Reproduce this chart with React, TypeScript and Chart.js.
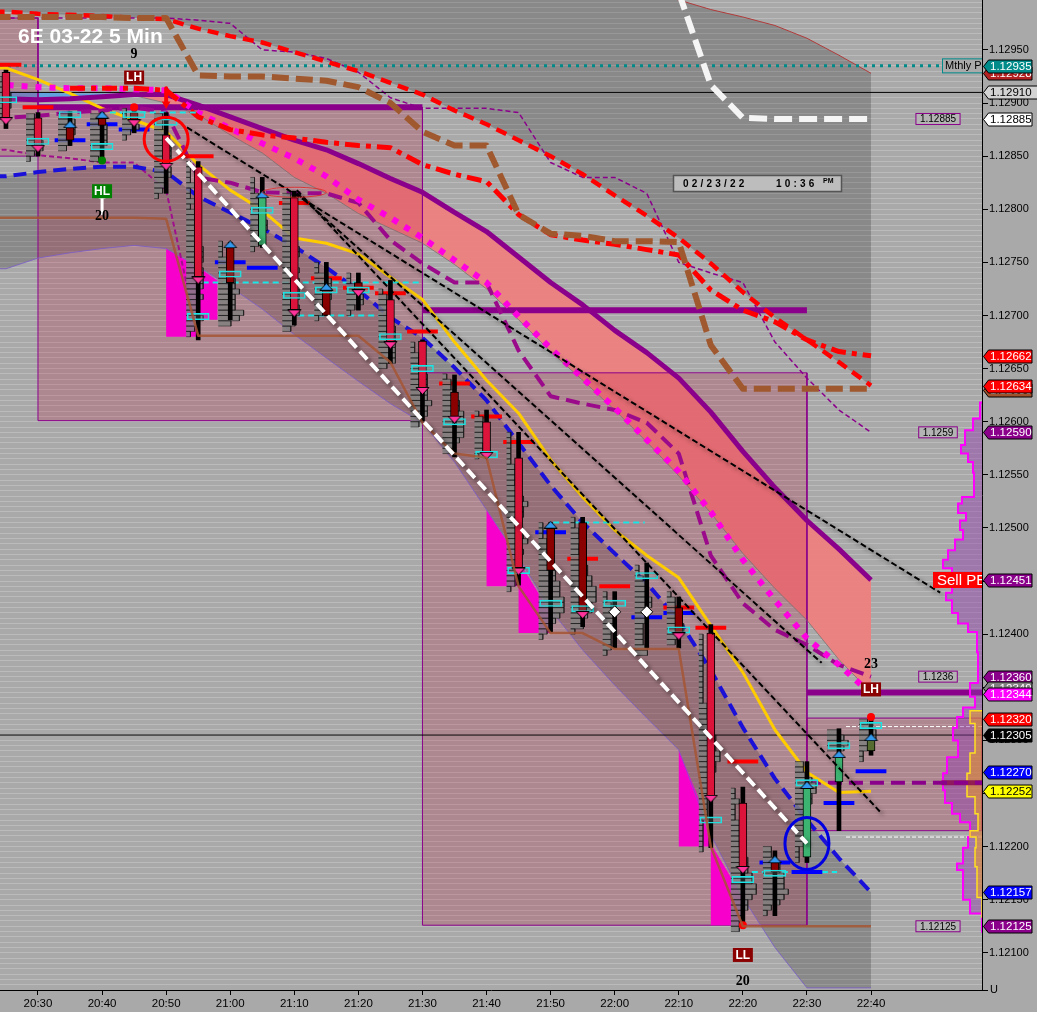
import React, { useEffect, useRef } from "react";
import { Chart, registerables } from "chart.js";
Chart.register(...registerables);

const T_MIN = 1224.07, T_MAX = 1377.32, P_MIN = 1.12065, P_MAX = 1.12997;
const barTimes = [1225,1230,1235,1240,1245,1250,1255,1260,1265,1270,1275,1280,1285,1290,1295,1300,1305,1310,1315,1320,1325,1330,1335,1340,1345,1350,1355,1360];

const upperEnvelope = [1.13105,1.13105,1.13100,1.13100,1.13095,1.13090,1.13085,1.13080,1.13075,1.13070,1.13065,1.13060,1.13055,1.13050,1.13045,1.13040,1.13035,1.13030,1.13020,1.13012,1.13004,1.12997,1.12988,1.12981,1.12973,1.12961,1.12945,1.12928];
const redDashed = [1.12986,1.12984,1.12983,1.12982,1.12980,1.12979,1.12970,1.12963,1.12957,1.12948,1.12939,1.12930,1.12919,1.12908,1.12893,1.12880,1.12865,1.12850,1.12833,1.12813,1.12794,1.12773,1.12749,1.12722,1.12698,1.12677,1.12656,1.12634];
const brownDashed = [1.12981,1.12981,1.12981,1.12981,1.12980,1.12980,1.12926,1.12925,1.12925,1.12923,1.12921,1.12915,1.12900,1.12873,1.12860,1.12860,1.12795,1.12777,1.12775,1.12770,1.12770,1.12769,1.12672,1.12631,1.12631,1.12631,1.12631,1.12631];
const redDashDot = [null,null,1.12914,1.12914,1.12914,1.12912,1.12887,1.12875,1.12870,1.12867,1.12863,1.12860,1.12858,1.12842,1.12833,1.12826,1.12795,1.12776,1.12771,1.12767,1.12762,1.12757,1.12724,1.12705,1.12694,1.12677,1.12666,1.12662];
const purpleThick = [1.12904,1.12903,1.12904,1.12906,1.12908,1.12908,1.12898,1.12887,1.12876,1.12865,1.12856,1.12843,1.12829,1.12816,1.12797,1.12779,1.12755,1.12731,1.12710,1.12686,1.12665,1.12641,1.12609,1.12572,1.12538,1.12507,1.12480,1.12451];
const magentaDotted = [1.12917,1.12915,1.12914,1.12914,1.12913,1.12912,1.12891,1.12876,1.12862,1.12848,1.12831,1.12809,1.12792,1.12773,1.12752,1.12731,1.12699,1.12669,1.12641,1.12613,1.12583,1.12553,1.12515,1.12470,1.12432,1.12396,1.12371,1.12344];
const cloudLower = [null,null,null,null,1.12907,1.12900,1.12889,1.12870,1.12853,1.12830,1.12815,1.12796,1.12782,1.12768,1.12748,1.12725,1.12696,1.12666,1.12639,1.12611,1.12581,1.12549,1.12514,1.12476,1.12443,1.12413,1.12376,1.12345];
const blueCloudUpper = [1.12911,1.12910,1.12909,1.12909,1.12908];
const blueDashed = [1.12831,1.12835,1.12838,1.12840,1.12840,1.12835,1.12812,1.12797,1.12782,1.12765,1.12745,1.12724,1.12698,1.12679,1.12651,1.12620,1.12580,1.12540,1.12505,1.12476,1.12448,1.12413,1.12366,1.12312,1.12264,1.12225,1.12189,1.12157];
const lowerEnvelope = [1.12744,1.12754,1.12759,1.12763,1.12766,1.12763,1.12746,1.12727,1.12706,1.12682,1.12660,1.12638,1.12617,1.12599,1.12562,1.12517,1.12472,1.12423,1.12385,1.12352,1.12321,1.12291,1.12211,1.12152,1.12105,1.12067,1.12067,1.12067];
const brownSolid = [1.12792,1.12792,1.12792,1.12792,1.12792,1.12791,1.12681,1.12681,1.12681,1.12681,1.12681,1.12681,1.12656,1.12599,1.12570,1.12566,1.12445,1.12401,1.12401,1.12386,1.12386,1.12386,1.12200,1.12125,1.12125,1.12125,1.12125,1.12125];
const yellowLine = [1.12933,1.12922,1.12909,1.12895,1.12884,1.12873,1.12842,1.12818,1.12799,1.12773,1.12768,1.12758,1.12736,1.12715,1.12675,1.12639,1.12608,1.12564,1.12529,1.12498,1.12474,1.12453,1.12408,1.12364,1.12310,1.12270,1.12251,1.12252];
const purpleDashed = [1.12886,1.12888,1.12891,1.12893,1.12896,1.12891,1.12830,1.12825,1.12816,1.12815,1.12815,1.12806,1.12771,1.12749,1.12731,1.12731,1.12667,1.12624,1.12617,1.12611,1.12599,1.12570,1.12474,1.12429,1.12404,1.12390,1.12371,1.12360];
const thinUpper = [1.12980,1.12980,1.12980,1.12980,1.12980,1.12980,1.12978,1.12975,1.12950,1.12948,1.12942,1.12929,1.12905,1.12895,1.12895,1.12895,1.12891,1.12844,1.12830,1.12830,1.12815,1.12750,1.12740,1.12731,1.12675,1.12641,1.12611,1.12590];
const thinSecond = [1.12856,1.12851,1.12848,1.12844,1.12844,1.12818,1.12680];
const whiteThick = [null,null,null,null,null,null,null,null,null,null,null,null,null,null,null,null,null,null,null,null,null,1.13004,1.12917,1.12886,1.12885,1.12885,1.12885,1.12885];

const whiteTrend = { t: [1250, 1350], p: [1.12867, 1.12203] };
const blackTrends = [
  { t: [1253.25, 1370.8], p: [1.12877, 1.12439] },
  { t: [1270.4, 1352.3], p: [1.12815, 1.12373] },
  { t: [1270.4, 1361.7], p: [1.12818, 1.12231] },
];

const boxTimes = [[1220, 1230], [1230, 1290], [1290, 1350], [1350, T_MAX]];
const boxPrices = [[1.12980, 1.12850], [1.12896, 1.12601], [1.12646, 1.12126], [1.12321, 1.12215]];

const magentaShapeTimes = [
  [1250, 1250, 1255, 1255, 1258, 1258, 1255.6],
  [1300, 1300, 1305, 1305, 1310, 1310, 1303],
  [1330, 1330, 1335, 1335, 1340, 1340, 1335, 1333],
];
const magentaShapePrices = [
  [1.12763, 1.12680, 1.12680, 1.12696, 1.12696, 1.12733, 1.12743],
  [1.12517, 1.12445, 1.12445, 1.12401, 1.12401, 1.12420, 1.12489],
  [1.12291, 1.12200, 1.12200, 1.12126, 1.12126, 1.12152, 1.12203, 1.12247],
];

const wickHigh = [1.12931,1.12891,1.12892,1.12891,1.12898,1.12891,1.12845,1.12769,1.12830,1.12817,1.12750,1.12740,1.12733,1.12677,1.12644,1.12611,1.12590,1.12505,1.12510,1.12440,1.12467,1.12435,1.12409,1.12256,1.12196,1.12280,1.12311,1.12321];
const wickLow = [1.12876,1.12850,1.12860,1.12846,1.12872,1.12815,1.12677,1.12696,1.12764,1.12691,1.12700,1.12705,1.12655,1.12601,1.12567,1.12567,1.12446,1.12402,1.12407,1.12387,1.12387,1.12387,1.12199,1.12126,1.12135,1.12185,1.12215,1.12286];
const bodyTop = [1.12929,1.12886,1.12877,1.12886,1.12891,1.12870,1.12840,1.12764,1.12811,1.12811,1.12724,1.12731,1.12715,1.12676,1.12628,1.12600,1.12566,1.12500,1.12505,null,null,1.12425,1.12401,1.12241,1.12185,1.12255,1.12284,1.12300];
const bodyBottom = [1.12886,1.12860,1.12865,1.12879,1.12884,1.12843,1.12736,1.12731,1.12766,1.12705,1.12700,1.12724,1.12675,1.12632,1.12605,1.12571,1.12462,1.12460,1.12421,null,null,1.12401,1.12248,1.12181,1.12176,1.12190,1.12261,1.12290];
const bodyKind = ["c","c","d","d","d","c","c","d","g","c","d","d","c","c","d","c","c","d","d",null,null,"d","c","c","d","g","g","o"];
const arrowDir = ["down","down","up","up","down","down","down","up","up","down","up","down","down","down","down","down","down","up","down",null,null,"down","down","down","up","up","up","up"];
const diamondPrices = [null,null,null,null,null,null,null,null,null,null,null,null,null,null,null,null,null,null,null,1.12421,1.12421,null,null,null,null,null,null,null];
const pocPrices = [1.12903,1.12864,1.12889,1.12859,1.12889,1.12882,1.12699,1.12739,1.12799,1.12719,1.12724,1.12724,1.12680,1.12650,1.12600,1.12569,1.12460,1.12429,1.12424,1.12429,1.12455,1.12404,1.12225,1.12169,1.12175,1.12260,1.12295,1.12314];
const redTickPrices = [1.12936,1.12896,null,null,null,null,1.12850,null,null,1.12806,1.12735,1.12726,1.12721,1.12685,1.12636,1.12605,1.12581,null,1.12471,1.12445,null,1.12425,1.12406,1.12280,null,null,null,null];
const blueTickPrices = [null,null,1.12865,1.12880,1.12875,null,null,1.12750,1.12745,null,null,null,null,null,null,null,null,1.12496,null,null,1.12416,1.12420,null,null,1.12185,1.12176,1.12241,1.12271];

const histTop = [1.12930,1.12890,1.12890,1.12890,1.12895,1.12890,1.12845,1.12770,1.12830,1.12815,1.12750,1.12740,1.12725,1.12675,1.12645,1.12610,1.12590,1.12505,1.12510,1.12440,1.12465,1.12440,1.12400,1.12255,1.12200,1.12280,1.12310,1.12320];
const histRows = [
  [1,2,3,3,4,4,4,3,2,1],
  [2,2,3,3,3,4,4,2,1],
  [3,4,4,4,3,3,2],
  [3,3,4,4,4,4,3,3,2],
  [1,1,3,4,2,1],
  [2,2,2,3,3,3,4,4,4,3,4,4,3,3,2,1],
  [1,1,1,1,2,1,1,2,1,2,2,2,3,3,3,3,4,4,4,3,4,4,4,4,3,4,3,3,3,4,3,2,1],
  [1,1,1,2,2,3,3,4,4,5,4,4,4,6,5,3],
  [1,1,1,2,2,2,3,3,4,4,3,3,2,1],
  [2,2,3,3,2,3,2,3,3,3,4,4,3,3,4,3,4,3,4,4,3,4,4,3,3,2],
  [1,1,3,4,4,4,4,3,2,2,1],
  [1,1,2,2,4,4,2,1],
  [1,2,2,3,3,3,3,4,4,4,4,4,4,4,2],
  [1,1,2,2,3,3,4,4,4,4,4,5,4,4,3,2],
  [1,2,2,3,3,4,4,5,5,5,5,5,4,3,2],
  [1,2,2,3,3,3,2,2,1],
  [1,1,1,1,1,1,2,2,2,2,3,3,4,5,4,4,3,3,4,4,5,3,4,3,3,3,3,2,2,1],
  [1,1,1,2,2,2,2,3,3,4,4,5,5,5,6,6,6,5,4,3,2,1],
  [1,1,2,2,3,2,2,3,3,4,4,5,5,6,6,6,5,5,4,3,3,1],
  [1,1,2,2,3,3,3,2,2,2,2,1],
  [1,1,2,3,3,3,4,4,3,3,3,2,2,2,2,3,3],
  [1,2,2,3,3,3,4,4,3,2],
  [1,1,1,1,1,1,1,1,1,1,1,1,1,2,2,2,3,3,3,4,4,4,5,5,4,4,3,3,3,3,2,2,2,2,2,1,1,1,1,1,1],
  [1,1,2,1,1,1,2,2,2,2,2,3,3,4,4,4,5,5,6,6,5,4,4,3,3,2,2],
  [2,2,3,4,4,5,5,5,6,5,4,2,1],
  [2,2,3,4,5,5,4,4,3,3,3,3,3,2,2,2,1,1,1],
  [3,4,5,4],
  [2,3,4,4,3,2,1,1],
];

const cyanDashTimes = [[1255.7,1290],[1270.6,1283.8],[1310.4,1324.7],[1341.4,1354.7],[1241.2,1254.8]];
const cyanDashPrices = [1.12731,1.12700,1.12505,1.12176,1.12891];
const flatThickTimes = [[1230,1290],[1290,1350],[1350,T_MAX]];
const flatThickPrices = [1.12896,1.12705,1.12345];
const priorCloseLine = 1.12260;
const teal = 1.12935, blackLines = [1.12910, 1.12305], whiteShort = [1.12313, 1.12209];

const profilePrices = [1.12618,1.12603,1.12592,1.12578,1.12570,1.12562,1.12552,1.12529,1.12523,1.12514,1.12507,1.12498,1.12489,1.12479,1.12470,1.12462,1.12439,1.12432,1.12420,1.12410,1.12402,1.12383,1.12354,1.12341,1.12331,1.12322,1.12312,1.12300,1.12284,1.12269,1.12253,1.12241,1.12231,1.12223,1.12209,1.12199,1.12184,1.12178,1.12150,1.12137,1.12119];
const profileVolume = [0,2,9,17,21,14,9,8,20,24,16,22,19,27,34,39,30,36,30,24,14,5,4,12,7,19,25,29,24,35,39,37,30,22,12,14,19,25,19,12,0];
const orangeProfilePrices = [1.12328,1.12316,1.12288,1.12269,1.12247,1.12231,1.12215,1.12209,1.12199,1.12181,1.12152,1.12133];
const orangeProfileVolume = [0,12,7,12,15,7,4,12,6,7,5,0];

const redDots = { t: [1245, 1340, 1360], p: [1.12896, 1.12126, 1.12322] };
const greenDots = { t: [1240], p: [1.12846] };

const flags: [number, string, string, string?][] = [
  [1.12928, "#b22222", "#ffffff"],
  [1.12935, "#008b8b", "#ffffff"],
  [1.12910, "#d3d3d3", "#000000", "wide"],
  [1.12885, "#ffffff", "#000000"],
  [1.12662, "#ff0000", "#ffffff"],
  [1.12630, "#a0522d", "#ffffff"],
  [1.12634, "#ff0000", "#ffffff"],
  [1.12590, "#8b008b", "#ffffff"],
  [1.12451, "#8b008b", "#ffffff"],
  [1.12360, "#8b008b", "#ffffff"],
  [1.12349, "#808080", "#ffffff"],
  [1.12344, "#ff00ff", "#ffffff"],
  [1.12320, "#ff0000", "#ffffff"],
  [1.12305, "#000000", "#ffffff"],
  [1.12270, "#0000ff", "#ffffff"],
  [1.12252, "#ffff00", "#000000"],
  [1.12157, "#0000ff", "#ffffff"],
  [1.12125, "#8b008b", "#ffffff"],
];
const noteBoxes: [string, number][] = [["1.12885", 1.12885], ["1.1259", 1.12590], ["1.1236", 1.12360], ["1.12125", 1.12125]];
const swingTags: [string, number, number, string][] = [["LH", 1245, 1.12924, "#8b0000"], ["HL", 1240, 1.12817, "#008000"], ["LH", 1360, 1.12348, "#8b0000"], ["LL", 1340, 1.12098, "#8b0000"]];
const swingCounts: [string, number, number][] = [["9", 1245, 1.12946], ["20", 1240, 1.12793], ["23", 1360, 1.12372], ["20", 1340, 1.12073]];
const rings: [number, number, number, number, string, number][] = [
  [1250, 1.12866, 22, 22, "#ff0000", 3],
  [1350, 1.12203, 22, 26, "#0000e0", 3],
  [1270, 1.12816, 32, 5, "rgba(230,30,30,0.75)", 1],
];

const F = "'Liberation Sans'";
const xy = (values: (number | null)[]) => {
  const pts: any[] = [];
  values.forEach((v, i) => { if (v !== null) pts.push({ x: barTimes[i], y: v }); });
  if (values[0] !== null) pts.unshift({ x: T_MIN - 1, y: values[0] });
  return pts;
};

// flat arrow glyphs used as the library's point style
function arrowGlyph(up: boolean, color: string) {
  const g = document.createElement("canvas");
  g.width = 15; g.height = 8;
  const c = g.getContext("2d") as CanvasRenderingContext2D;
  c.beginPath();
  if (up) { c.moveTo(7.5, 0.5); c.lineTo(14, 7.5); c.lineTo(1, 7.5); }
  else { c.moveTo(1, 0.5); c.lineTo(14, 0.5); c.lineTo(7.5, 7.5); }
  c.closePath(); c.fillStyle = color; c.fill(); c.strokeStyle = "#000000"; c.lineWidth = 1; c.stroke();
  return g;
}

function buildDatasets() {
  const ds: any[] = [];
  const line = (data: any[], color: string, width: number, dash: number[] = [], extra: any = {}) =>
    ds.push({ type: "line", data, borderColor: color, borderWidth: width, borderDash: dash, pointRadius: 0, tension: 0, fill: false, borderCapStyle: "butt", borderJoinStyle: "round", ...extra });
  const shape = (data: any[], color: string, border = 0, borderColor = "transparent", extra: any = {}) =>
    ds.push({ type: "line", data, backgroundColor: color, borderColor, borderWidth: border, pointRadius: 0, tension: 0, fill: "shape", ...extra });
  const band = (a: any[], b: any[]) => [...a, ...[...b].reverse()];

  // shaded bands
  shape(band(xy(upperEnvelope), xy(redDashed)), "rgba(0,0,0,0.19)");
  shape(band(xy(blueDashed), xy(lowerEnvelope)), "rgba(0,0,0,0.19)");
  shape(band(xy(purpleThick.map((v, i) => (cloudLower[i] === null ? null : v))).filter((p) => p.x >= 1245), xy(cloudLower)), "rgba(240,127,127,0.92)");
  shape(band(xy(blueCloudUpper), xy(purpleThick.slice(0, 5))), "rgba(90,160,230,0.9)");
  // session boxes
  boxTimes.forEach(([a, b], i) => {
    const [hi, lo] = boxPrices[i];
    shape([{ x: a, y: hi }, { x: b, y: hi }, { x: b, y: lo }, { x: a, y: lo }, { x: a, y: hi }], "rgba(195,14,52,0.21)", 1, "#8b008b");
  });
  magentaShapeTimes.forEach((ts, i) => shape(ts.map((t, k) => ({ x: t, y: magentaShapePrices[i][k] })), "#f800cc"));
  // thin envelopes
  line(xy(upperEnvelope), "#b03a3a", 1);
  line(xy(lowerEnvelope), "rgba(120,90,200,0.8)", 1);
  line(xy(thinUpper), "#8b008b", 1.5, [5, 3]);
  line(xy(thinSecond), "#a0108c", 2, [5, 3]);
  line(xy(cloudLower), "rgba(110,110,110,0.7)", 1);
  // flat lines
  line([{ x: T_MIN, y: teal }, { x: 1371.2, y: teal }], "#008b8b", 3, [3, 5]);
  blackLines.forEach((p) => line([{ x: T_MIN, y: p }, { x: T_MAX, y: p }], "#000000", 1));
  whiteShort.forEach((p) => line([{ x: 1356.1, y: p }, { x: T_MAX, y: p }], "#ffffff", 1, [4, 2]));
  flatThickTimes.forEach(([a, b], i) => line([{ x: a, y: flatThickPrices[i] }, { x: b, y: flatThickPrices[i] }], "#8b008b", 6));
  // volume profile
  shape(profilePrices.map((p, i) => ({ x: T_MAX - profileVolume[i] * 0.156, y: p })), "rgba(145,60,170,0.45)", 2, "#ff00ff", { stepped: true });
  shape(orangeProfilePrices.map((p, i) => ({ x: T_MAX - orangeProfileVolume[i] * 0.156, y: p })), "rgba(240,160,30,0.5)", 1.5, "#ffe020", { stepped: true });
  line([{ x: 1371, y: priorCloseLine }, { x: T_MAX, y: priorCloseLine }], "rgba(139,10,80,0.85)", 5);
  line([{ x: 1350, y: priorCloseLine }, { x: T_MAX, y: priorCloseLine }], "#8b008b", 4, [14, 7]);
  // moving averages
  line(xy(yellowLine), "#ffcc00", 3);
  line(xy(purpleThick), "#8b008b", 5);
  line(xy(blueDashed), "#1a10d8", 4, [13, 7]);
  line(xy(purpleDashed), "#9c0a8c", 4, [14, 7]);
  line(xy(magentaDotted), "#ff00e0", 6, [6, 8]);
  line(xy(redDashed), "#ff0000", 4.5, [11, 7]);
  line(xy(redDashDot), "#ff0000", 5, [15, 6, 5, 6]);
  line(xy(brownDashed), "#a0582e", 6, [17, 7]);
  line(xy(whiteThick).slice(0), "#f5f5f5", 6, [18, 7]);
  cyanDashTimes.forEach(([a, b], i) => line([{ x: a, y: cyanDashPrices[i] }, { x: b, y: cyanDashPrices[i] }], "#19e6e6", 2, [6, 4]));
  // session tick marks
  const ticks = (vals: (number | null)[], color: string) => {
    const pts: any[] = [];
    vals.forEach((v, i) => { if (v !== null) pts.push({ x: barTimes[i] - 2.4, y: v }, { x: barTimes[i] + 2.4, y: v }, { x: barTimes[i] + 2.41, y: null }); });
    line(pts, color, 4);
  };
  ticks(redTickPrices, "#ff0000");
  ticks(blueTickPrices, "#0000ff");
  // footprint rows
  histRows.forEach((rows, b) => {
    const left = barTimes[b] - 1.87;
    const pts: any[] = [];
    rows.forEach((w, r) => {
      const y0 = histTop[b] - r * 0.00005, y1 = y0 - 0.00005, right = left + w * 0.66;
      pts.push({ x: left, y: y0 }, { x: right, y: y0 }, { x: right, y: y1 }, { x: left, y: y1 });
    });
    shape(pts, "rgba(128,128,128,0.85)", 0.8, "rgba(20,20,20,0.7)");
  });
  // candles
  const bars = (data: any[], thick: number, color: any, border = 0, borderColor = "#000000") =>
    ds.push({ type: "bar", data, grouped: false, maxBarThickness: thick, barPercentage: 1, categoryPercentage: 1, backgroundColor: color, borderColor, borderWidth: border, borderSkipped: false });
  bars(barTimes.map((t, i) => ({ x: t, y: [wickLow[i], wickHigh[i]] })), 4, "#000000");
  const kindColor: any = { c: "#dc143c", d: "#8b0000", g: "#3cb371", o: "#556b2f" };
  const bodyIdx = barTimes.map((_, i) => i).filter((i) => bodyKind[i] !== null);
  bars(bodyIdx.map((i) => ({ x: barTimes[i], y: [bodyBottom[i], bodyTop[i]] })), 8, bodyIdx.map((i) => kindColor[bodyKind[i] as string]), 1);
  bars(barTimes.map((t, i) => ({ x: t, y: [pocPrices[i] - 0.00003, pocPrices[i] + 0.00003] })), 22, "rgba(120,150,150,0.25)", 1, "#19e6e6");
  // arrows and markers
  const marker = (data: any[], style: any, r: number, fillC: string, rot = 0, bw = 1, bc = "#000000") =>
    ds.push({ type: "line", data, showLine: false, pointStyle: style, pointRadius: r, pointRotation: rot, pointBackgroundColor: fillC, pointBorderColor: bc, pointBorderWidth: bw });
  const upIdx = barTimes.map((_, i) => i).filter((i) => arrowDir[i] === "up");
  const downIdx = barTimes.map((_, i) => i).filter((i) => arrowDir[i] === "down");
  marker(upIdx.map((i) => ({ x: barTimes[i], y: (bodyTop[i] as number) + 0.00003 })), arrowGlyph(true, "#3399ee"), 6, "#3399ee");
  marker(downIdx.map((i) => ({ x: barTimes[i], y: (bodyBottom[i] as number) - 0.00003 })), arrowGlyph(false, "#ff3399"), 6, "#ff3399");
  marker(barTimes.map((t, i) => ({ x: t, y: diamondPrices[i] })).filter((p) => p.y !== null), "rectRot", 6, "#ffffff");
  marker(redDots.t.map((t, i) => ({ x: t, y: redDots.p[i] })), "circle", 4, "#ff0000", 0, 0);
  marker(greenDots.t.map((t, i) => ({ x: t, y: greenDots.p[i] })), "circle", 4, "#008000", 0, 0);
  line(xy(brownSolid), "rgba(165,85,50,0.85)", 2.5);
  // arrows for the swing marks
  line([{ x: 1240, y: 1.12813 }, { x: 1240, y: 1.12796 }], "#ffffff", 3);
  line([{ x: 1250, y: 1.12914 }, { x: 1250, y: 1.12900 }], "#ff0000", 4);
  marker([{ x: 1250, y: 1.12899 }], "triangle", 5, "#ff0000", 180, 0);
  marker([{ x: 1240, y: 1.12812 }], "triangle", 4, "#ffffff", 0, 0);
  // trend lines
  blackTrends.forEach((tr) => line(tr.t.map((t, i) => ({ x: t, y: tr.p[i] })), "#000000", 2, [6, 3], { shadow: true }));
  line(whiteTrend.t.map((t, i) => ({ x: t, y: whiteTrend.p[i] })), "#ffffff", 4, [11, 5], { shadow: true });
  ds.forEach((d, i) => { d.order = ds.length - i; });
  return ds;
}

const overlay = {
  id: "overlay",
  beforeDatasetDraw(chart: any, args: any) {
    if (chart.data.datasets[args.index].shadow) {
      const c = chart.ctx; c.save();
      c.shadowColor = "rgba(0,0,0,0.45)"; c.shadowBlur = 4; c.shadowOffsetX = 3; c.shadowOffsetY = 3;
    }
  },
  afterDatasetDraw(chart: any, args: any) {
    if (chart.data.datasets[args.index].shadow) chart.ctx.restore();
  },
  afterDraw(chart: any) {
    const c = chart.ctx, X = chart.scales.x, Y = chart.scales.y;
    const px = (t: number) => X.getPixelForValue(t), py = (p: number) => Y.getPixelForValue(p);
    const right = chart.chartArea.right, bottom = chart.chartArea.bottom;
    c.save();
    c.textBaseline = "middle";
    rings.forEach(([t, p, rx, ry, col, w]) => {
      c.beginPath(); c.ellipse(px(t), py(p), rx, ry, 0, 0, Math.PI * 2);
      c.strokeStyle = col; c.lineWidth = w; c.stroke();
    });
    c.fillStyle = "#bdbdbd"; c.strokeStyle = "#555555"; c.lineWidth = 1.5;
    c.fillRect(673.5, 175.5, 168, 16); c.strokeRect(673.5, 175.5, 168, 16);
    c.fillStyle = "#000000"; c.font = `bold 10px ${F}`; c.textAlign = "left";
    (c as any).letterSpacing = "3.2px"; c.fillText("02/23/22", 683, 184); c.fillText("10:36", 776, 184);
    (c as any).letterSpacing = "0px"; c.font = `bold 7px ${F}`; c.fillText("PM", 823, 181);
    c.fillStyle = "#ffffff"; c.font = `bold 21px ${F}`; c.fillText("6E 03-22 5 Min", 18, 37);
    swingTags.forEach(([s, t, p, col]) => {
      const x = px(t), y = py(p);
      c.fillStyle = col; c.fillRect(x - 10, y - 7, 20, 14);
      c.fillStyle = "#ffffff"; c.font = `bold 12px ${F}`; c.textAlign = "center"; c.fillText(s, x, y + 0.5);
    });
    swingCounts.forEach(([s, t, p]) => {
      c.fillStyle = "#000000"; c.font = "bold 14px 'Liberation Serif'"; c.textAlign = "center"; c.fillText(s, px(t), py(p));
    });
    noteBoxes.forEach(([s, p]) => {
      const y = py(p), x = 938;
      c.font = `10px ${F}`; c.textAlign = "center";
      const w = c.measureText(s).width + 8;
      c.fillStyle = "#b4b4b4"; c.fillRect(x - w / 2, y - 5.5, w, 11);
      c.strokeStyle = "#8b008b"; c.lineWidth = 1; c.strokeRect(x - w / 2, y - 5.5, w, 11);
      c.fillStyle = "#000000"; c.fillText(s, x, y + 0.5);
    });
    c.save(); c.beginPath(); c.rect(0, 0, right, bottom); c.clip();
    c.textAlign = "left";
    let y = py(teal);
    c.fillStyle = "#aaaaaa"; c.fillRect(942.5, y - 7, 44, 14);
    c.strokeStyle = "#008b8b"; c.lineWidth = 1; c.strokeRect(942.5, y - 7, 44, 14);
    c.fillStyle = "#000000"; c.font = `11px ${F}`; c.fillText("Mthly Pivot", 945, y + 0.5);
    y = py(1.12451);
    c.fillStyle = "#ff0000"; c.fillRect(933, y - 8, 60, 16);
    c.fillStyle = "#ffffff"; c.font = `15px ${F}`; c.fillText("Sell PE", 937, y + 0.5);
    c.restore();
    c.fillStyle = "#000000"; c.font = `11px ${F}`; c.textAlign = "left";
    c.fillText("1.13000", 990, py(1.13));
    c.fillText("U", 990, bottom);
    c.strokeStyle = "#000000"; c.lineWidth = 1; c.beginPath(); c.moveTo(right, bottom + 0.5); c.lineTo(right + 6, bottom + 0.5); c.stroke();
    flags.forEach(([p, bg, fg, wide]) => {
      const fy = Math.round(py(p)) + 0.5, x0 = right + 1.5, x1 = right + 6.5, x2 = wide ? 1038 : 1032;
      c.beginPath(); c.moveTo(x0, fy); c.lineTo(x1, fy - 6.5); c.lineTo(x2, fy - 6.5); c.lineTo(x2, fy + 6.5); c.lineTo(x1, fy + 6.5); c.closePath();
      c.fillStyle = bg; c.fill(); c.strokeStyle = "#000000"; c.lineWidth = 1; c.stroke();
      c.fillStyle = fg; c.font = `11.5px ${F}`; c.textAlign = "left"; c.fillText(p.toFixed(5), 990, fy + 0.5);
    });
    c.restore();
  },
};

export default function App() {
  const ref = useRef<HTMLCanvasElement>(null);
  useEffect(() => {
    const chart = new Chart(ref.current as any, {
      type: "line",
      data: { datasets: buildDatasets() },
      plugins: [overlay],
      options: {
        responsive: false, animation: false, devicePixelRatio: 1, events: [],
        layout: { padding: 0, autoPadding: false },
        plugins: { legend: { display: false }, tooltip: { enabled: false }, title: { display: false } },
        scales: {
          x: {
            type: "linear", position: "bottom", min: T_MIN, max: T_MAX, offset: false,
            afterFit(s: any) { s.height = 22; s.paddingLeft = 0; s.paddingRight = 0; },
            grid: { display: true, offset: false, drawOnChartArea: false, drawTicks: true, tickLength: 5,
              tickColor(ctx: any) { return ctx.tick && ctx.tick.value <= 1360 ? "#000000" : "rgba(0,0,0,0)"; } },
            border: { display: true, color: "#000000", width: 1 },
            ticks: {
              stepSize: 10, autoSkip: false, maxRotation: 0, includeBounds: false, padding: 2,
              color: "#000000", font: { family: "Liberation Sans", size: 11.5 },
              callback(v: any) { const m = Math.round(v); return m > 1360 ? "" : `${Math.floor(m / 60)}:${String(m % 60).padStart(2, "0")}`; },
            },
          },
          y: {
            type: "linear", position: "right", min: P_MIN, max: P_MAX, offset: false,
            afterFit(s: any) { s.width = 55; s.paddingTop = 0; s.paddingBottom = 0; },
            grid: {
              offset: false, drawOnChartArea: true, drawTicks: true, tickLength: 6, lineWidth: 1,
              color: "rgba(200,200,200,0.6)",
              tickColor(ctx: any) { return Math.round(ctx.tick.value * 1e5) % 50 === 0 ? "#000000" : "rgba(0,0,0,0)"; },
            },
            border: { display: true, color: "#000000", width: 1 },
            ticks: {
              stepSize: 0.00005, autoSkip: false, includeBounds: false, padding: 1, align: "center",
              color: "#000000", font: { family: "Liberation Sans", size: 11 },
              callback(v: any) { const n = Math.round(v * 1e5); return n % 50 === 0 ? (n / 1e5).toFixed(5) : ""; },
            },
          },
        },
      } as any,
    } as any);
    return () => chart.destroy();
  }, []);
  return (
    <div style={{ position: "fixed", left: 0, top: 0, width: 1037, height: 1012, background: "#a9a9a9" }}>
      <canvas ref={ref} width={1037} height={1012} style={{ display: "block" }} />
    </div>
  );
}
